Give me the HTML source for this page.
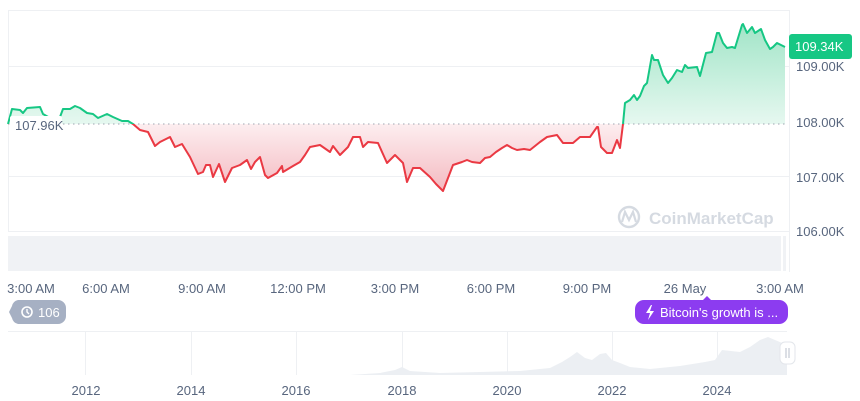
<!DOCTYPE html>
<html><head><meta charset="utf-8"><style>
html,body{margin:0;padding:0;background:#fff;}
svg{display:block;font-family:"Liberation Sans",sans-serif;}
</style></head><body>
<svg width="860" height="401" viewBox="0 0 860 401" xmlns="http://www.w3.org/2000/svg">
<defs>
<linearGradient id="gg" x1="0" y1="20" x2="0" y2="124" gradientUnits="userSpaceOnUse">
<stop offset="0" stop-color="#9fe4c6"/><stop offset="1" stop-color="#e6f8f0"/></linearGradient>
<linearGradient id="rg" x1="0" y1="124" x2="0" y2="192" gradientUnits="userSpaceOnUse">
<stop offset="0" stop-color="#fdeef0"/><stop offset="1" stop-color="#f4b9c0"/></linearGradient>
<clipPath id="above"><rect x="0" y="0" width="790" height="124"/></clipPath>
<clipPath id="below"><rect x="0" y="124" width="790" height="120"/></clipPath>
</defs>
<line x1="8" y1="10.5" x2="790" y2="10.5" stroke="#eef0f3"/>
<line x1="8.5" y1="10" x2="8.5" y2="232" stroke="#eef0f3"/>
<line x1="789.5" y1="10" x2="789.5" y2="272" stroke="#eef0f3"/>
<line x1="8" y1="66.5" x2="790" y2="66.5" stroke="#eef0f3"/>
<line x1="8" y1="176.5" x2="790" y2="176.5" stroke="#eef0f3"/>
<line x1="8" y1="231.5" x2="790" y2="231.5" stroke="#eef0f3"/>
<rect x="8" y="236" width="773" height="35" fill="#f0f2f5"/>
<rect x="783" y="236" width="3" height="35" fill="#f0f2f5"/>
<g opacity="0.35" fill="none" stroke="#8a96ac" stroke-width="2.4">
<circle cx="629" cy="217" r="10"/>
<path d="M622 222 L625 212 L629 220 L633 212 L636 222" stroke-width="2.2"/>
</g>
<text x="649" y="224" font-size="17" font-weight="bold" fill="#8a96ac" opacity="0.35">CoinMarketCap</text>
<path id="dp" d="M8,124 L12,109 L20,110 L23,113 L27,108 L40,107 L43,114 L50,118 L56,120 L60,117 L63,109 L70,109 L75,106 L80,108 L87,113 L93,114 L98,118 L107,114 L113,117 L122,121 L128,121 L133,124 L140,130 L148,132 L155,146 L160,142 L170,137 L175,147 L182,144 L190,157 L198,174 L203,172 L206,165 L210,165 L213,177 L219,164 L225,182 L232,168 L240,165 L247,160 L251,169 L255,162 L260,157 L265,175 L268,178 L277,173 L282,166 L283,172 L293,166 L300,162 L305,155 L310,147 L320,145 L330,152 L333,146 L340,155 L348,147 L353,137 L360,137 L363,147 L368,142 L378,143 L387,163 L395,155 L403,163 L407,182 L413,168 L420,168 L430,177 L436,184 L443,191 L448,178 L453,165 L462,162 L467,160 L472,162 L480,163 L485,158 L490,157 L496,152 L502,148 L507,145 L512,148 L517,150 L524,149 L530,150 L540,142 L547,137 L557,135 L563,143 L573,143 L580,137 L590,137 L597,127 L598,127 L601,147 L607,153 L612,153 L617,140 L620,148 L623,124 L625,103 L630,100 L634,95 L637,100 L640,96 L644,86 L647,83 L652,55 L654,60 L658,60 L663,75 L668,83 L672,78 L677,70 L682,72 L685,65 L688,68 L697,67 L700,76 L706,53 L712,52 L717,33 L719,33 L723,43 L727,48 L732,47 L735,48 L742,25 L743,24 L747,33 L752,27 L755,33 L761,29 L765,40 L770,49 L773,47 L777,43 L785,47" fill="none"/>
<g clip-path="url(#above)"><path d="M8,124 L12,109 L20,110 L23,113 L27,108 L40,107 L43,114 L50,118 L56,120 L60,117 L63,109 L70,109 L75,106 L80,108 L87,113 L93,114 L98,118 L107,114 L113,117 L122,121 L128,121 L133,124 L623,124 L625,103 L630,100 L634,95 L637,100 L640,96 L644,86 L647,83 L652,55 L654,60 L658,60 L663,75 L668,83 L672,78 L677,70 L682,72 L685,65 L688,68 L697,67 L700,76 L706,53 L712,52 L717,33 L719,33 L723,43 L727,48 L732,47 L735,48 L742,25 L743,24 L747,33 L752,27 L755,33 L761,29 L765,40 L770,49 L773,47 L777,43 L785,47 L785,124 Z" fill="url(#gg)"/></g>
<g clip-path="url(#below)"><path d="M133,124 L140,130 L148,132 L155,146 L160,142 L170,137 L175,147 L182,144 L190,157 L198,174 L203,172 L206,165 L210,165 L213,177 L219,164 L225,182 L232,168 L240,165 L247,160 L251,169 L255,162 L260,157 L265,175 L268,178 L277,173 L282,166 L283,172 L293,166 L300,162 L305,155 L310,147 L320,145 L330,152 L333,146 L340,155 L348,147 L353,137 L360,137 L363,147 L368,142 L378,143 L387,163 L395,155 L403,163 L407,182 L413,168 L420,168 L430,177 L436,184 L443,191 L448,178 L453,165 L462,162 L467,160 L472,162 L480,163 L485,158 L490,157 L496,152 L502,148 L507,145 L512,148 L517,150 L524,149 L530,150 L540,142 L547,137 L557,135 L563,143 L573,143 L580,137 L590,137 L597,127 L598,127 L601,147 L607,153 L612,153 L617,140 L620,148 L623,124 Z" fill="url(#rg)"/></g>
<line x1="8" y1="124" x2="785" y2="124" stroke="#a0a6b2" stroke-dasharray="1.5 3.5" stroke-width="1"/>
<g clip-path="url(#above)"><use href="#dp" stroke="#16c784" stroke-width="2" stroke-linejoin="round"/></g>
<g clip-path="url(#below)"><use href="#dp" stroke="#ea3943" stroke-width="2" stroke-linejoin="round"/></g>
<rect x="10" y="116" width="52" height="17" fill="#fff" rx="2"/>
<text x="15" y="130" font-size="13" fill="#58667e">107.96K</text>
<g font-size="13" fill="#58667e">
<text x="796" y="71">109.00K</text>
<text x="796" y="127">108.00K</text>
<text x="796" y="182">107.00K</text>
<text x="796" y="236">106.00K</text>
</g>
<rect x="789" y="34" width="63" height="25" rx="3" fill="#16c784"/>
<text x="795" y="51" font-size="13" fill="#fff">109.34K</text>
<g font-size="13" fill="#58667e" text-anchor="middle">
<text x="31" y="293">3:00 AM</text>
<text x="106" y="293">6:00 AM</text>
<text x="202" y="293">9:00 AM</text>
<text x="298" y="293">12:00 PM</text>
<text x="395" y="293">3:00 PM</text>
<text x="491" y="293">6:00 PM</text>
<text x="587" y="293">9:00 PM</text>
<text x="685" y="293">26 May</text>
<text x="780" y="293">3:00 AM</text>
</g>
<path d="M18,300 H58 a8,8 0 0 1 8,8 v8 a8,8 0 0 1 -8,8 H18 a8,8 0 0 1 -6,-6 l-3,-6 l3,-6 a8,8 0 0 1 6,-6 Z" fill="#a6b0c3"/>
<circle cx="27" cy="312" r="5" fill="none" stroke="#fff" stroke-width="1.6"/>
<path d="M27,309 V312 L29,314" stroke="#fff" stroke-width="1.4" fill="none"/>
<text x="38" y="317" font-size="13" fill="#fff">106</text>
<path d="M644,300 H703 l4,-4 l4,4 H779 a9,9 0 0 1 9,9 v6 a9,9 0 0 1 -9,9 H644 a9,9 0 0 1 -9,-9 v-6 a9,9 0 0 1 9,-9 Z" fill="#8c3cf0"/>
<path d="M651,305 l-5,8 h4 l-2,7 l6,-9 h-4 l2,-6 Z" fill="#fff"/>
<text x="660" y="317" font-size="13" fill="#fff">Bitcoin's growth is ...</text>
<line x1="8" y1="331.5" x2="787" y2="331.5" stroke="#eef0f3"/>
<g stroke="#eef0f3">
<line x1="85.5" y1="332" x2="85.5" y2="375"/><line x1="191.5" y1="332" x2="191.5" y2="375"/>
<line x1="296.5" y1="332" x2="296.5" y2="375"/><line x1="402.5" y1="332" x2="402.5" y2="375"/>
<line x1="507.5" y1="332" x2="507.5" y2="375"/><line x1="612.5" y1="332" x2="612.5" y2="375"/>
<line x1="717.5" y1="332" x2="717.5" y2="375"/>
</g>
<path d="M8,375 L350,375 L380,373 L395,370 L402,367 L410,371 L440,373 L480,372 L520,371 L550,368 L562,362 L570,357 L577,352 L585,358 L592,360 L600,354 L606,353 L612,360 L620,363 L630,367 L650,369 L680,366 L705,362 L715,360 L722,350 L740,352 L750,347 L760,340 L768,337 L775,340 L787,345 L787,375 Z" fill="#eceff3"/>
<rect x="780" y="342" width="15" height="22" rx="5" fill="#fff" stroke="#e3e6eb"/>
<line x1="786" y1="348" x2="786" y2="358" stroke="#b8bfcb"/><line x1="789" y1="348" x2="789" y2="358" stroke="#b8bfcb"/>
<g font-size="13" fill="#58667e" text-anchor="middle">
<text x="86" y="395">2012</text><text x="191" y="395">2014</text><text x="296" y="395">2016</text>
<text x="402" y="395">2018</text><text x="507" y="395">2020</text><text x="612" y="395">2022</text>
<text x="717" y="395">2024</text>
</g>
</svg>
</body></html>
